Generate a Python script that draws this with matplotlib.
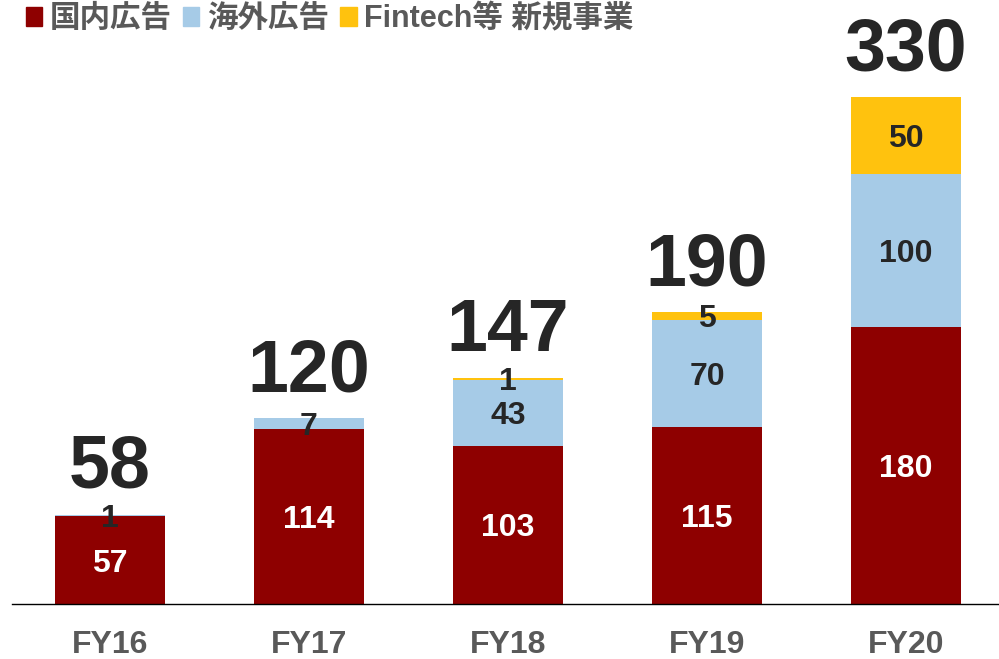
import matplotlib
matplotlib.use("Agg")
import matplotlib.pyplot as plt
from matplotlib.patches import Patch
import numpy as np

years = ["FY16", "FY17", "FY18", "FY19", "FY20"]
domestic = [57, 114, 103, 115, 180]
overseas = [1, 7, 43, 70, 100]
fintech = [0, 0, 1, 5, 50]
totals = ["58", "120", "147", "190", "330"]

series_names = ["国内広告", "海外広告", "Fintech等 新規事業"]
colors = ["#8E0000", "#A6CBE7", "#FFC20E"]
label_colors = ["white", "#262626", "#262626"]

fonts = ["Liberation Sans", "Noto Sans CJK JP", "DejaVu Sans"]
plt.rcParams["font.family"] = fonts

fig = plt.figure(figsize=(9.99, 6.59), dpi=100)
ax = fig.add_axes([12 / 999, 55 / 659, 987 / 999, 604 / 659])

x = np.arange(len(years))
width = 0.553
bottom = np.zeros(len(years))
for vals, col, lc in zip([domestic, overseas, fintech], colors, label_colors):
    vals = np.array(vals, dtype=float)
    ax.bar(x, vals, width, bottom=bottom, color=col, linewidth=0)
    for xi, b, v in zip(x, bottom, vals):
        if v > 0:
            ax.text(xi, b + v / 2 - 7.5, f"{int(v)}", ha="center", va="baseline",
                    fontsize=23, fontweight="bold", color=lc)
    bottom += vals

for xi, top, t in zip(x, bottom, totals):
    ax.text(xi, top + 17.5, t, ha="center", va="baseline", fontsize=53,
            fontweight="bold", color="#262626")

ax.set_xlim(-0.492, 4.467)
ax.set_ylim(0, 393.1)
ax.set_xticks(x)
ax.set_xticklabels(years, fontsize=23, fontweight="bold", color="#595959")
ax.tick_params(axis="x", length=0, pad=19)
ax.set_yticks([])
for s in ["top", "right", "left"]:
    ax.spines[s].set_visible(False)
ax.spines["bottom"].set_linewidth(1.0)
ax.spines["bottom"].set_color("black")

handles = [Patch(color=c, label=n) for c, n in zip(colors, series_names)]
fig.legend(handles=handles, loc="upper left", bbox_to_anchor=(-0.002, 1.035),
           ncol=3, frameon=False, handlelength=0.55, handleheight=0.55,
           handletextpad=0.25, columnspacing=0.35,
           prop={"family": fonts, "weight": "bold", "size": 22},
           labelcolor="#595959")

fig.savefig("out.png", dpi=100)
